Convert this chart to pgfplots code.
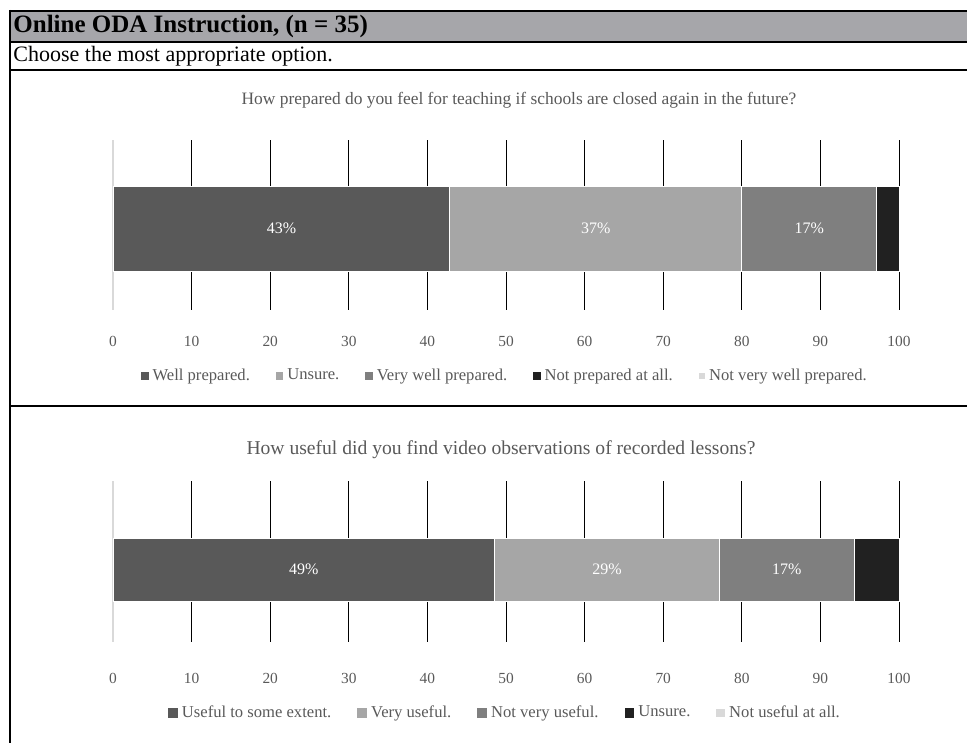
\documentclass[border=0pt]{standalone}
\usepackage{fontspec}
\setmainfont{Liberation Serif}
\usepackage{pgfplots}
\pgfplotsset{compat=1.18}
\definecolor{c1}{HTML}{595959}
\definecolor{c2}{HTML}{A6A6A6}
\definecolor{c3}{HTML}{7F7F7F}
\definecolor{c4}{HTML}{212121}
\definecolor{c5}{HTML}{D9D9D9}
\definecolor{txt}{HTML}{595959}
\definecolor{band}{HTML}{A6A6AA}
\pgfplotsset{
  panel/.style={
    xbar stacked, scale only axis, width=393pt,
    xmin=0, xmax=100, xtick={10,20,...,100},
    extra x ticks={0}, extra x tick style={grid style={draw=gray!30, line width=0.6pt}},
    xmajorgrids, grid style={draw=black, line width=0.5pt},
    ytick=\empty, axis line style={draw=none}, major tick length=0pt,
    tick label style={txt, font=\fontsize{7.7}{9}\selectfont},
    /pgf/number format/assume math mode=true,
    clip=false, anchor=south west,
    legend columns=-1,
    legend style={draw=none, fill=none, font=\fontsize{8.3}{10}\selectfont, text=txt,
      /tikz/every even column/.append style={column sep=11pt}},
    every node near coord/.append style={white, font=\fontsize{8}{10}\selectfont},
  },
  sqA/.style={legend image code/.code={\fill[#1] (0pt,-1.6pt) rectangle (3.2pt,1.6pt);}},
  sqB/.style={legend image code/.code={\fill[#1] (0pt,-2.2pt) rectangle (4.4pt,2.2pt);}},
  seg/.style={fill=#1, draw=white, line width=0.5pt},
}
\begin{document}
\begin{tikzpicture}
\useasboundingbox (0,0) rectangle (483.5pt,371.5pt);
% frame
\fill[band] (5pt,366pt) rectangle (483.5pt,350.5pt);
\draw[line width=1.2pt] (5pt,366pt) -- (483.5pt,366pt);
\draw[line width=1pt] (5pt,350.5pt) -- (483.5pt,350.5pt);
\draw[line width=0.8pt] (5pt,336.5pt) -- (483.5pt,336.5pt);
\draw[line width=1pt] (5pt,168.5pt) -- (483.5pt,168.5pt);
\draw[line width=1.2pt] (5pt,366.6pt) -- (5pt,0pt);
\node[anchor=west, inner sep=0pt, font=\fontsize{12.5}{14}\selectfont\bfseries] at (6.5pt,358pt) {Online ODA Instruction, (n = 35)};
\node[anchor=west, inner sep=0pt, font=\fontsize{11}{13}\selectfont] at (6.5pt,343.5pt) {Choose the most appropriate option.};
\node[txt, font=\fontsize{8.7}{10}\selectfont] at (259.5pt,321.5pt) {How prepared do you feel for teaching if schools are closed again in the future?};
\node[txt, font=\fontsize{9.8}{11}\selectfont] at (250.5pt,146.5pt) {How useful did you find video observations of recorded lessons?};

% panel 1
\begin{axis}[panel, at={(56.5pt,216.5pt)}, height=85pt, bar width=42.5pt,
  ymin=-0.958, ymax=1.042,
  xticklabel style={anchor=center, yshift=-15.5pt},
  legend style={at={(0.5,0)}, anchor=center, yshift=-33pt}]
\addplot[seg=c1, sqA=c1, nodes near coords, point meta=explicit symbolic] coordinates {(42.86,0) [43\%]};
\addplot[seg=c2, sqA=c2, nodes near coords, point meta=explicit symbolic] coordinates {(37.14,0) [37\%]};
\addplot[seg=c3, sqA=c3, nodes near coords, point meta=explicit symbolic] coordinates {(17.14,0) [17\%]};
\addplot[seg=c4, sqA=c4] coordinates {(2.86,0)};
\addplot[seg=c5, sqA=c5, draw=none] coordinates {(0,0)};
\legend{Well prepared., Unsure., Very well prepared., Not prepared at all., Not very well prepared.}
\end{axis}

% panel 2
\begin{axis}[panel, at={(56.5pt,50.5pt)}, height=80.5pt, bar width=31.5pt,
  ymin=-0.9, ymax=1.1,
  xticklabel style={anchor=center, yshift=-18pt},
  legend style={at={(0.5,0)}, anchor=center, yshift=-35.5pt}]
\addplot[seg=c1, sqB=c1, nodes near coords, point meta=explicit symbolic] coordinates {(48.57,0) [49\%]};
\addplot[seg=c2, sqB=c2, nodes near coords, point meta=explicit symbolic] coordinates {(28.57,0) [29\%]};
\addplot[seg=c3, sqB=c3, nodes near coords, point meta=explicit symbolic] coordinates {(17.14,0) [17\%]};
\addplot[seg=c4, sqB=c4] coordinates {(5.72,0)};
\addplot[seg=c5, sqB=c5, draw=none] coordinates {(0,0)};
\legend{Useful to some extent., Very useful., Not very useful., Unsure., Not useful at all.}
\end{axis}
\end{tikzpicture}
\end{document}
